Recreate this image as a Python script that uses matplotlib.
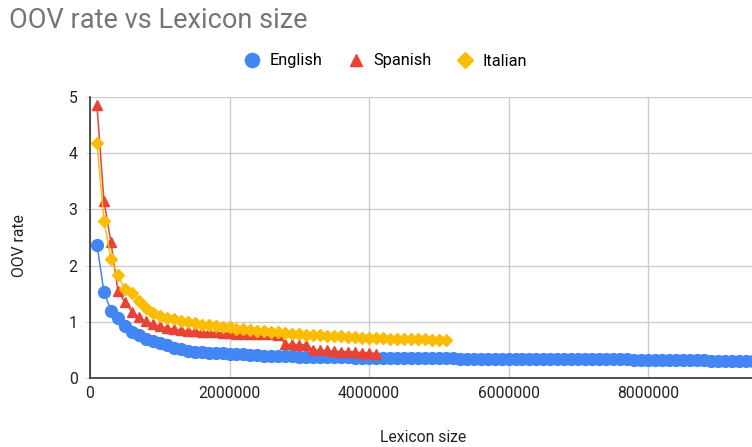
import numpy as np
import matplotlib
matplotlib.use("Agg")
from matplotlib import pyplot as plt

plt.rcParams['font.family'] = ['Roboto', 'DejaVu Sans']

# lexicon sizes go up in steps of 100000
english_sizes = [i * 100000 for i in range(1, 96)]
spanish_sizes = [i * 100000 for i in range(1, 42)]
italian_sizes = [i * 100000 for i in range(1, 52)]

english_oov = [
    2.37, 1.53, 1.20, 1.07, 0.92, 0.82, 0.76, 0.70, 0.65, 0.62,
    0.58, 0.54, 0.51, 0.48, 0.46, 0.46, 0.45, 0.45, 0.44, 0.43,
    0.42, 0.42, 0.41, 0.41, 0.40, 0.40, 0.39, 0.39, 0.39, 0.38,
    0.38, 0.38, 0.37, 0.37, 0.37, 0.37, 0.37, 0.36, 0.36, 0.36,
    0.36, 0.36, 0.36, 0.35, 0.35, 0.35, 0.35, 0.35, 0.35, 0.35,
    0.35, 0.35, 0.34, 0.34, 0.34, 0.34, 0.34, 0.34, 0.34, 0.34,
    0.34, 0.34, 0.34, 0.34, 0.34, 0.34, 0.33, 0.33, 0.33, 0.33,
    0.33, 0.33, 0.33, 0.33, 0.33, 0.33, 0.33, 0.32, 0.32, 0.32,
    0.32, 0.32, 0.32, 0.32, 0.32, 0.32, 0.32, 0.32, 0.31, 0.31,
    0.31, 0.31, 0.31, 0.31, 0.31,
]

spanish_oov = [
    4.85, 3.15, 2.42, 1.55, 1.35, 1.18, 1.08, 1.01, 0.96, 0.92,
    0.89, 0.87, 0.85, 0.84, 0.83, 0.82, 0.81, 0.81, 0.80, 0.80,
    0.79, 0.79, 0.79, 0.78, 0.78, 0.78, 0.77, 0.60, 0.60, 0.59,
    0.59, 0.50, 0.49, 0.49, 0.48, 0.47, 0.47, 0.46, 0.45, 0.45,
    0.43,
]

italian_oov = [
    4.18, 2.80, 2.12, 1.83, 1.58, 1.52, 1.37, 1.25, 1.15, 1.10,
    1.07, 1.05, 1.02, 0.99, 0.97, 0.95, 0.94, 0.92, 0.91, 0.90,
    0.88, 0.87, 0.85, 0.84, 0.83, 0.82, 0.81, 0.80, 0.79, 0.78,
    0.77, 0.77, 0.76, 0.75, 0.75, 0.74, 0.73, 0.73, 0.72, 0.72,
    0.71, 0.71, 0.70, 0.70, 0.70, 0.69, 0.69, 0.69, 0.68, 0.68,
    0.68,
]

x_ticks = [0, 2000000, 4000000, 6000000, 8000000]
y_ticks = [0, 1, 2, 3, 4, 5]

colors = {"English": "#4285F4", "Spanish": "#EA4335", "Italian": "#FBBC04"}

fig = plt.figure(figsize=(7.52, 4.47), dpi=100)
ax = fig.add_axes([90 / 752, 1 - 378 / 447, 1 - 90 / 752, (378 - 97) / 447])

ax.plot(english_sizes, english_oov, color=colors["English"], marker="o",
        markersize=8.5, linewidth=1.1, label="English", zorder=3)
ax.plot(spanish_sizes, spanish_oov, color=colors["Spanish"], marker="^",
        markersize=7.5, linewidth=1.1, label="Spanish", zorder=4)
ax.plot(italian_sizes, italian_oov, color=colors["Italian"], marker="D",
        markersize=6.5, linewidth=1.1, label="Italian", zorder=5)

ax.set_xlim(0, 9490000)
ax.set_ylim(0, 5)
ax.set_xticks(x_ticks)
ax.set_xticklabels([str(t) for t in x_ticks])
ax.set_yticks(y_ticks)
ax.tick_params(axis="x", length=0, labelsize=11.3, labelcolor="#222222", pad=6)
ax.tick_params(axis="y", length=3, color="#cccccc", labelsize=11.3,
               labelcolor="#222222", pad=6)
ax.grid(True, color="#cccccc", linewidth=1)
ax.set_axisbelow(True)
for side in ["top", "right"]:
    ax.spines[side].set_visible(False)
for side in ["left", "bottom"]:
    ax.spines[side].set_color("#333333")
    ax.spines[side].set_linewidth(1.2)

fig.text(9 / 752, 1 - 20 / 447, "OOV rate vs Lexicon size", fontsize=19.5,
         color="#757575", ha="left", va="center")
fig.text(19 / 752, 1 - 246 / 447, "OOV rate", rotation=90, fontsize=11.3,
         color="#222222", ha="center", va="center")
fig.text(423 / 752, 1 - 437 / 447, "Lexicon size", fontsize=11.3,
         color="#222222", ha="center", va="center")

leg = fig.legend(loc="center", bbox_to_anchor=(386 / 752, 1 - 61 / 447), ncol=3,
                 frameon=False, fontsize=11.8, handlelength=0.9, handletextpad=0.6,
                 columnspacing=1.6, markerscale=1.2)
for h in leg.legend_handles:
    h.set_linestyle("none")

fig.savefig("out.png", dpi=100)
